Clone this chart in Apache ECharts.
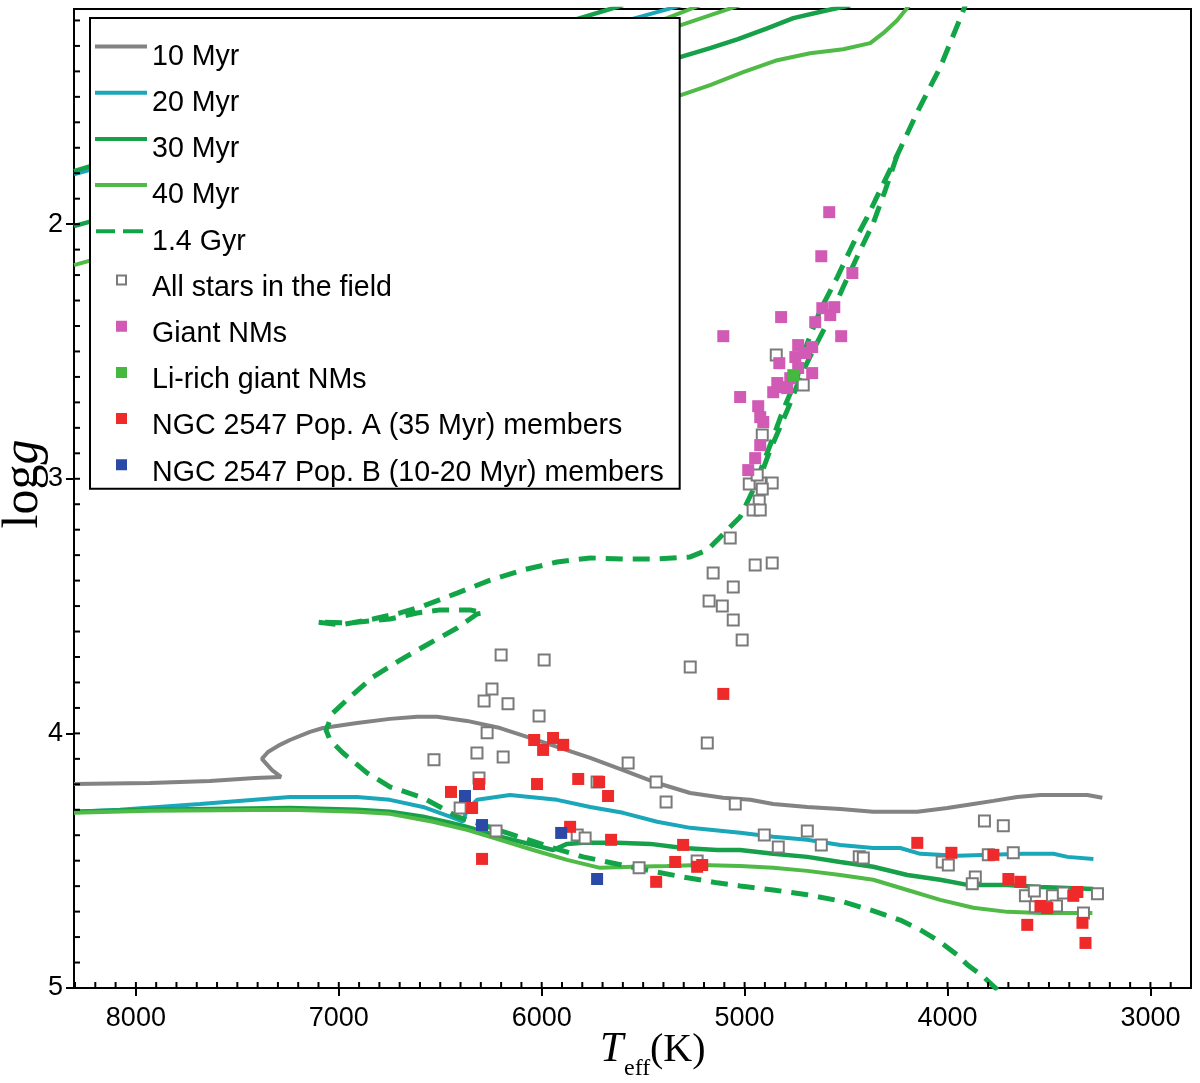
<!DOCTYPE html>
<html><head><meta charset="utf-8">
<script src="https://cdn.jsdelivr.net/npm/echarts@6/dist/echarts.min.js"></script>
<style>html,body{margin:0;padding:0;background:#fff}#chart{width:1200px;height:1083px}</style>
</head><body><div id="chart"></div>
<script>
// ---- tick labels ----
const xTickLabels = [8000, 7000, 6000, 5000, 4000, 3000];
const yTickLabels = [2, 3, 4, 5];

// ---- isochrones: [Teff (K), log g] ----
const iso10Myr = [[8305,4.199],[7931,4.195],[7635,4.187],[7413,4.175],[7285,4.171],[7329,4.144],[7379,4.100],[7349,4.073],[7290,4.045],[7241,4.026],[7142,3.994],[7078,3.979],[6910,3.959],[6748,3.943],[6614,3.935],[6516,3.935],[6368,3.951],[6205,3.979],[6057,4.018],[5924,4.053],[5761,4.096],[5599,4.144],[5431,4.195],[5268,4.234],[5106,4.253],[4972,4.261],[4859,4.277],[4691,4.289],[4529,4.297],[4366,4.308],[4149,4.308],[4001,4.293],[3873,4.277],[3774,4.265],[3656,4.250],[3542,4.242],[3311,4.242],[3237,4.253]];
const iso20MyrLower = [[8305,4.308],[8079,4.300],[7684,4.277],[7241,4.250],[6910,4.250],[6748,4.261],[6585,4.289],[6452,4.327],[6388,4.347],[6368,4.300],[6319,4.261],[6156,4.242],[5924,4.261],[5761,4.289],[5599,4.312],[5431,4.347],[5268,4.371],[5022,4.390],[4859,4.406],[4691,4.418],[4529,4.438],[4366,4.450],[4233,4.450],[4134,4.473],[3952,4.481],[3626,4.473],[3478,4.473],[3409,4.485],[3281,4.493]];
const iso20MyrUpper = [[8305,1.804],[5308,1.140]];
const iso30MyrLower = [[8305,4.308],[7931,4.300],[7241,4.293],[6910,4.300],[6748,4.308],[6585,4.327],[6452,4.351],[6368,4.367],[6205,4.406],[6042,4.438],[5944,4.458],[5875,4.434],[5796,4.430],[5628,4.430],[5465,4.434],[5303,4.450],[5135,4.458],[5022,4.458],[4859,4.473],[4691,4.485],[4529,4.505],[4366,4.524],[4198,4.556],[4036,4.575],[3902,4.595],[3705,4.595],[3542,4.603],[3281,4.611]];
const iso30MyrUpperA = [[8305,1.792],[5599,1.140]];
const iso30MyrUpperB = [[8305,2.008],[5318,1.344],[5170,1.309],[5036,1.274],[4889,1.231],[4760,1.191],[4593,1.160],[4479,1.140]];
const iso40MyrLower = [[8305,4.312],[7931,4.304],[7241,4.300],[6910,4.308],[6748,4.316],[6536,4.347],[6368,4.379],[6205,4.418],[6042,4.458],[5875,4.497],[5712,4.528],[5549,4.524],[5382,4.521],[5219,4.517],[5022,4.521],[4859,4.528],[4691,4.540],[4529,4.556],[4366,4.575],[4198,4.615],[4036,4.654],[3873,4.685],[3705,4.701],[3542,4.705],[3286,4.705]];
const iso40MyrUpperA = [[8305,2.161],[5318,1.494],[5170,1.454],[5007,1.403],[4839,1.356],[4677,1.329],[4514,1.313],[4381,1.289],[4317,1.250],[4248,1.199],[4188,1.140]];
const iso40MyrUpperB = [[6698,1.517],[5382,1.191],[5219,1.140]];
const iso40MyrUpperC = [[6205,1.446],[5318,1.219],[5022,1.140]];
const iso14GyrMain = [[3754,5.007],[3823,4.956],[3902,4.909],[3952,4.870],[4036,4.819],[4134,4.772],[4233,4.733],[4366,4.697],[4529,4.658],[4691,4.634],[4859,4.615],[5022,4.599],[5135,4.587],[5303,4.564],[5465,4.540],[5628,4.513],[5796,4.485],[5944,4.450],[6171,4.391],[6319,4.352],[6417,4.327],[6501,4.289],[6585,4.253],[6748,4.210],[6861,4.155],[6979,4.077],[7043,4.026],[7063,3.987],[7029,3.920],[6945,3.857],[6831,3.778],[6698,3.712],[6550,3.645],[6417,3.586],[6319,3.531],[6289,3.527],[6353,3.515],[6501,3.515],[6614,3.527],[6748,3.551],[6945,3.566],[7108,3.563],[6994,3.574],[6831,3.551],[6698,3.527],[6585,3.500],[6417,3.449],[6254,3.398],[6092,3.358],[5924,3.327],[5761,3.311],[5599,3.315],[5431,3.315],[5268,3.307],[5184,3.280],[5135,3.241],[5086,3.201],[5022,3.150],[4958,3.044],[4908,2.938],[4859,2.836],[4810,2.730],[4741,2.601],[4691,2.467],[4627,2.338],[4543,2.208],[4464,2.075],[4396,1.973],[4356,1.906],[4248,1.729],[4144,1.552],[4036,1.384],[3937,1.191],[3912,1.140]];
const iso14GyrBranch = [[4248,1.729],[4307,1.867],[4366,1.996],[4430,2.102],[4514,2.247],[4593,2.389],[4662,2.495],[4726,2.601],[4775,2.703],[4825,2.797],[4874,2.887],[4923,2.993]];

// ---- stars: [Teff (K), log g] ----
const fieldStars = [[6200,3.692],[5988,3.712],[5268,3.739],[5012,3.633],[6245,3.826],[6284,3.873],[6166,3.884],[6013,3.932],[6269,3.998],[6319,4.077],[6190,4.093],[6531,4.104],[5574,4.116],[5184,4.038],[6309,4.175],[5727,4.191],[5436,4.191],[5387,4.269],[5046,4.277],[6402,4.293],[6225,4.383],[5825,4.399],[5786,4.411],[5520,4.528],[5234,4.501],
  [4844,2.514],[4711,2.632],[4913,2.828],[4977,3.021],[4923,3.017],[4864,3.017],[4913,3.040],[4928,3.087],[4958,3.123],[4923,3.123],[4938,2.985],[5071,3.233],[4948,3.339],[4864,3.331],[5155,3.370],[5056,3.425],[5175,3.480],[5110,3.500],[5056,3.555],
  [4903,4.399],[4834,4.446],[4691,4.383],[4622,4.438],[4435,4.485],[4415,4.489],[3818,4.344],[3725,4.363],[4026,4.505],[3996,4.517],[3799,4.477],[3676,4.469],[3863,4.564],[3878,4.591],[3616,4.638],[3572,4.619],[3483,4.638],[3429,4.627],[3261,4.630],[3463,4.678],[3567,4.681],[3330,4.705]];
const giantNMs = [[4583,1.953],[4622,2.126],[4469,2.192],[4558,2.326],[4617,2.330],[4652,2.385],[4820,2.365],[5105,2.440],[4524,2.440],[4736,2.475],[4667,2.483],[4701,2.506],[4750,2.522],[4829,2.546],[4667,2.585],[4736,2.565],[4839,2.624],[4810,2.640],[4859,2.660],[5022,2.679],[4933,2.715],[4908,2.777],[4923,2.868],[4948,2.919],[4982,2.966],[4790,2.644],[4923,2.758],[4578,2.357],[4775,2.605]];
const liRichGiantNMs = [[4760,2.593]];
const popAMembers = [[5105,3.845],[6037,4.026],[5944,4.018],[5993,4.065],[5894,4.045],[6447,4.230],[6309,4.199],[6023,4.199],[5820,4.179],[5717,4.191],[5673,4.246],[6343,4.293],[5860,4.367],[5658,4.418],[5303,4.438],[5342,4.505],[5234,4.524],[5209,4.517],[6294,4.493],[5436,4.583],[4149,4.430],[3981,4.469],[3774,4.477],[3700,4.572],[3641,4.583],[3360,4.623],[3380,4.638],[3542,4.678],[3508,4.686],[3607,4.752],[3335,4.744],[3320,4.823]];
const popBMembers = [[6378,4.246],[6294,4.360],[5904,4.391],[5727,4.572]];

const names = ['10 Myr','20 Myr','30 Myr','40 Myr','1.4 Gyr','All stars in the field','Giant NMs','Li-rich giant NMs','NGC 2547 Pop. A (35 Myr) members','NGC 2547 Pop. B (10-20 Myr) members'];
const C = {g10:'#838383', g20:'#19a7b9', g30:'#17a04a', g40:'#4fba46', gyr:'#12a548', field:'#7a7a7a', giant:'#d15ab5', li:'#45b83f', popA:'#ef2a2a', popB:'#2b49a6'};

const X_MIN = 2800, X_MAX = 8305, Y_MIN = 1.155, Y_MAX = 5;

function lineSeries(name, data, color, width, dashed) {
  return {type:'line', name, data, symbol:'none', showSymbol:false, smooth:false, clip:true, color,
    lineStyle:{color, width, type: dashed ? [17, 10] : 'solid', cap:'butt'}, silent:true, z:2};
}
function scatterSeries(name, data, style, size) {
  return {type:'scatter', name, data, symbol:'rect', symbolSize:size, itemStyle:Object.assign({opacity:1}, style), silent:true, z:3};
}

const anchor = 'M0 0L0.01 0L0 0.01Z M52 32L51.99 32L52 31.99Z ';
const iconLine = 'path://' + anchor + 'M0 3.5H52V7.5H0Z';
const iconDash = 'path://' + anchor + 'M1 3.5H20V7.5H1Z M28 3.5H48V7.5H28Z';
const iconSq = 'path://' + anchor + 'M21 2.5H32V13.5H21Z';
const iconOpen = 'path://' + anchor + 'M21 2.5H32V13.5H21Z M23 4.5V11.5H30V4.5Z';

const legendColors = [C.g10, C.g20, C.g30, C.g40, C.gyr, C.field, C.giant, C.li, C.popA, C.popB];
const legendIcons = [iconLine, iconLine, iconLine, iconLine, iconDash, iconOpen, iconSq, iconSq, iconSq, iconSq];

const plain = v => String(Math.round(v * 1000) / 1000);

const titleGraphics = [
  {type:'text', x:24, y:484, rotation:Math.PI/2, z:10,
   style:{text:'{a|log}{b|g}', align:'center', verticalAlign:'middle',
          rich:{a:{fontFamily:'Liberation Serif', fontSize:50, fill:'#000'}, b:{fontFamily:'Liberation Serif', fontSize:50, fontStyle:'italic', fill:'#000'}}}},
  {type:'text', x:600, y:1050, z:10, style:{text:'T', fontFamily:'Liberation Serif', fontStyle:'italic', fontSize:42, fill:'#000', align:'left', verticalAlign:'middle'}},
  {type:'text', x:624, y:1069, z:10, style:{text:'eff', fontFamily:'Liberation Serif', fontSize:24, fill:'#000', align:'left', verticalAlign:'middle'}},
  {type:'text', x:650, y:1050, z:10, style:{text:'(K)', fontFamily:'Liberation Serif', fontSize:40, fill:'#000', align:'left', verticalAlign:'middle'}}
];

const chart = echarts.init(document.getElementById('chart'), null, {renderer:'canvas'});
const option = {
  animation:false,
  backgroundColor:'#fff',
  grid:{left:74, right:9, top:9, bottom:95, show:true, borderColor:'#000', borderWidth:2, backgroundColor:'transparent'},
  xAxis:{type:'value', inverse:true, min:X_MIN, max:X_MAX, position:'bottom',
     axisLine:{show:true, onZero:false, lineStyle:{color:'#000', width:2}},
     axisTick:{show:true, inside:false, length:8, customValues:xTickLabels, lineStyle:{color:'#000', width:2}},
     axisLabel:{show:true, customValues:xTickLabels, formatter:plain, fontSize:27, color:'#000', fontFamily:'Liberation Sans', margin:17},
     splitLine:{show:false}},
  yAxis:{type:'value', inverse:true, min:Y_MIN, max:Y_MAX, position:'left',
     axisLine:{show:true, onZero:false, lineStyle:{color:'#000', width:2}},
     axisTick:{show:true, inside:false, length:8, customValues:yTickLabels, lineStyle:{color:'#000', width:2}},
     axisLabel:{show:true, customValues:yTickLabels, formatter:plain, fontSize:27, color:'#000', fontFamily:'Liberation Sans', margin:11},
     splitLine:{show:false}},
  legend:{
    show:true, orient:'vertical', left:90, top:18, selectedMode:false,
    padding:[23, 16, 0, 5], itemGap:14.2, itemWidth:52, itemHeight:32,
    backgroundColor:'#fff', borderColor:'#000', borderWidth:2,
    textStyle:{fontSize:28.6, fontFamily:'Liberation Sans', color:'#000', lineHeight:30},
    itemStyle:{borderWidth:0},
    data: names.map((n, i) => ({name:n, icon:legendIcons[i], itemStyle:{color:legendColors[i], borderWidth:0, opacity:1}})),
    z:10
  },
  graphic: titleGraphics,
  series:[
    lineSeries(names[0], iso10Myr, C.g10, 4, false),
    lineSeries(names[1], iso20MyrLower, C.g20, 4, false),
    lineSeries(names[1], iso20MyrUpper, C.g20, 4, false),
    lineSeries(names[2], iso30MyrLower, C.g30, 4.5, false),
    lineSeries(names[2], iso30MyrUpperA, C.g30, 4.5, false),
    lineSeries(names[2], iso30MyrUpperB, C.g30, 4.5, false),
    lineSeries(names[3], iso40MyrLower, C.g40, 4, false),
    lineSeries(names[3], iso40MyrUpperA, C.g40, 4, false),
    lineSeries(names[3], iso40MyrUpperB, C.g40, 4, false),
    lineSeries(names[3], iso40MyrUpperC, C.g40, 4, false),
    lineSeries(names[4], iso14GyrMain, C.gyr, 5, true),
    lineSeries(names[4], iso14GyrBranch, C.gyr, 5, true),
    scatterSeries(names[5], fieldStars, {color:'#fff', borderColor:C.field, borderWidth:2}, 11),
    scatterSeries(names[6], giantNMs, {color:C.giant}, 12),
    scatterSeries(names[7], liRichGiantNMs, {color:C.li}, 12),
    scatterSeries(names[8], popAMembers, {color:C.popA}, 12),
    scatterSeries(names[9], popBMembers, {color:C.popB}, 12)
  ]
};
chart.setOption(option);

// minor ticks (every 100 K and every 0.1 dex), placed through the chart's own scales
const tickGraphics = [];
const tickStyle = {stroke:'#000', lineWidth:2};
for (let v = 2800; v <= 8300; v += 100) {
  const p = chart.convertToPixel({gridIndex:0}, [v, Y_MAX]);
  tickGraphics.push({type:'line', z:5, silent:true, shape:{x1:p[0], y1:p[1], x2:p[0], y2:p[1] - 6}, style:tickStyle});
}
for (let k = 12; k <= 50; k++) {
  const p = chart.convertToPixel({gridIndex:0}, [X_MAX, k / 10]);
  tickGraphics.push({type:'line', z:5, silent:true, shape:{x1:p[0], y1:p[1], x2:p[0] + 6, y2:p[1]}, style:tickStyle});
}
chart.setOption({graphic: titleGraphics.concat(tickGraphics)});
</script>
</body></html>
